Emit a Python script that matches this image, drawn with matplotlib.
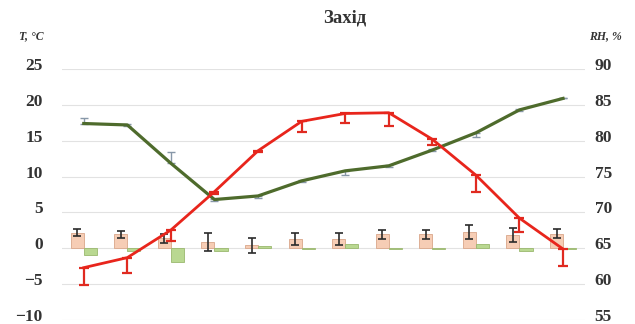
#!/usr/bin/env python3

"""Захід: температура, відносна вологість та зміни по місяцях."""

import matplotlib
matplotlib.use("Agg")
import matplotlib.pyplot as plt
import matplotlib.transforms as mtransforms
import numpy as np


MONTHS = list(range(1, 13))

# температура, °C (червона лінія) та похибка вниз
TEMP = [-2.7, -1.3, 2.55, 7.9, 13.6, 17.7, 18.8, 18.9, 15.2, 10.2, 4.2, -0.1]
TEMP_ERR = [2.4, 2.1, 1.6, 0.3, 0.2, 1.5, 1.3, 1.9, 0.8, 2.4, 1.9, 2.3]

# відносна вологість, % (зелена лінія)
RH = [82.4, 82.2, 76.85, 71.8, 72.3, 74.4, 75.8, 76.5, 78.7, 81.1, 84.3, 85.9]
RH_ERR_LOW = [0.0, 0.1, 0.0, 0.2, 0.3, 0.1, 0.6, 0.1, 0.2, 0.6, 0.1, 0.0]
RH_ERR_HIGH = [0.8, 0.1, 1.6, 0.1, 0.0, 0.1, 0.0, 0.1, 0.1, 0.0, 0.1, 0.1]

# стовпчики (шкала T)
BAR_T = [2.2, 1.95, 1.4, 0.85, 0.45, 1.3, 1.3, 1.95, 1.95, 2.3, 1.85, 2.05]
BAR_T_ERR = [0.47, 0.45, 0.6, 1.25, 1.05, 0.9, 0.8, 0.63, 0.63, 0.98, 0.98, 0.65]
BAR_RH = [-0.93, -0.37, -1.95, -0.33, 0.28, -0.15, 0.56, -0.08, -0.08, 0.6, -0.38, -0.08]

SERIF = "Liberation Serif"


def style_ticklabels(fig, labels):
    """Жирний шрифт із засічками, трохи вище за лінію сітки."""
    shift = mtransforms.ScaledTranslation(0, 5 / 100, fig.dpi_scale_trans)
    for lab in labels:
        lab.set_fontfamily(SERIF)
        lab.set_fontweight("bold")
        lab.set_fontsize(12.5)
        lab.set_color("#333333")
        lab.set_transform(lab.get_transform() + shift)


def main():
    fig = plt.figure(figsize=(6.35, 3.24), dpi=100)
    ax = fig.add_axes([0.0976, 0.0123, 0.8234, 0.7747])
    x = np.arange(len(MONTHS))
    w = 0.3

    ax.set_ylim(-10, 25)
    ax.set_xlim(-0.5, 11.5)
    ax.set_yticks(range(-10, 26, 5))
    ax.set_yticklabels(["\u221210", "\u22125"] + [str(v) for v in range(0, 26, 5)])
    ax.grid(axis="y", color="#e2e2e2", linewidth=0.8)
    ax.set_axisbelow(True)
    for s in ax.spines.values():
        s.set_visible(False)
    ax.tick_params(axis="both", length=0)
    ax.tick_params(axis="y", pad=14)
    ax.set_xticks([])
    style_ticklabels(fig, ax.get_yticklabels())

    ax.bar(x - w / 2, BAR_T, width=w, color="#f6cdb5", edgecolor="#d9a68a",
           linewidth=0.6, zorder=2)
    ax.errorbar(x - w / 2, BAR_T, yerr=BAR_T_ERR, fmt="none", ecolor="#2b2b2b",
                elinewidth=1.2, capsize=3, capthick=1.2, zorder=3)
    ax.bar(x + w / 2, BAR_RH, width=w, color="#b9d891", edgecolor="#9ab86e",
           linewidth=0.6, zorder=2)

    # RH на правій осі: 55..90 відповідає -10..25
    ax2 = ax.twinx()
    ax2.set_ylim(55, 90)
    ax2.set_yticks(range(55, 91, 5))
    for s in ax2.spines.values():
        s.set_visible(False)
    ax2.tick_params(axis="y", length=0, pad=7)
    style_ticklabels(fig, ax2.get_yticklabels())

    ax2.errorbar(x, RH, yerr=[RH_ERR_LOW, RH_ERR_HIGH], fmt="none", ecolor="#8797a8",
                 elinewidth=1.0, capsize=3, capthick=1.0, zorder=3)
    ax2.plot(x, RH, color="#4e6b2c", linewidth=2.3, zorder=4)
    ax2.set_zorder(ax.get_zorder() + 1)
    ax2.patch.set_visible(False)

    zeros = np.zeros(len(TEMP))
    ax3 = ax.twinx()
    ax3.set_ylim(-10, 25)
    ax3.axis("off")
    ax3.errorbar(x, TEMP, yerr=[TEMP_ERR, zeros], fmt="none", ecolor="#e02a20",
                 elinewidth=1.6, capsize=3.5, capthick=1.6, zorder=3)
    ax3.plot(x, TEMP, color="#e8251c", linewidth=2.0, zorder=4)
    ax3.set_zorder(ax2.get_zorder() + 1)

    fig.text(0.543, 0.945, "Захід", ha="center", va="center", fontfamily=SERIF,
             fontweight="bold", fontsize=13.5, color="#333333")
    fig.text(0.049, 0.889, "T, °C", ha="center", va="center", fontfamily=SERIF,
             fontweight="bold", fontstyle="italic", fontsize=8.5, color="#333333")
    fig.text(0.953, 0.889, "RH, %", ha="center", va="center", fontfamily=SERIF,
             fontweight="bold", fontstyle="italic", fontsize=8.5, color="#333333")

    fig.savefig("out.png", dpi=100)
    plt.close(fig)


if __name__ == "__main__":
    main()
